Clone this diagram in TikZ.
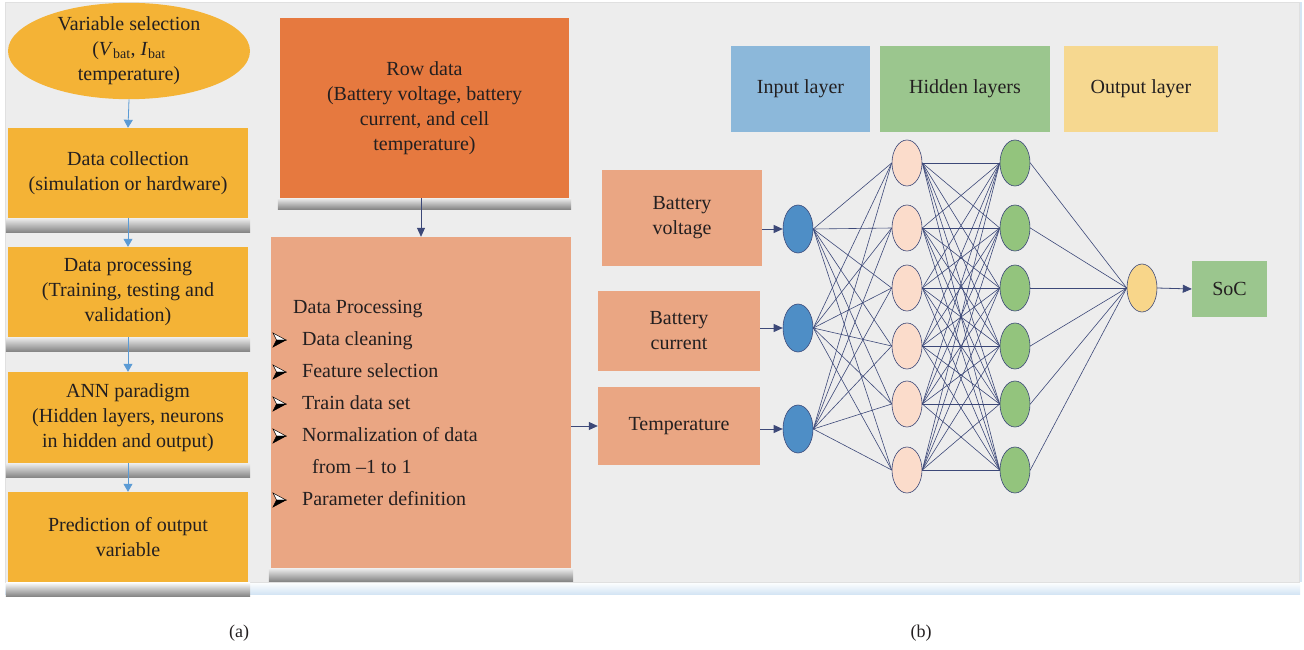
\documentclass[tikz,border=0pt]{standalone}
\usepackage{fontspec}
\setmainfont{Liberation Serif}
\usetikzlibrary{shapes.geometric,arrows.meta}

\definecolor{panelgray}{HTML}{EDEDED}
\definecolor{amber}{HTML}{F4B336}
\definecolor{rawor}{HTML}{E6793F}
\definecolor{salmon}{HTML}{EAA683}
\definecolor{legblue}{HTML}{8CB8DA}
\definecolor{leggreen}{HTML}{9BC68E}
\definecolor{legyellow}{HTML}{F6D890}
\definecolor{inneuron}{HTML}{4E8EC6}
\definecolor{hidpeach}{HTML}{FBDCCB}
\definecolor{hidgreen}{HTML}{93C47D}
\definecolor{outneuron}{HTML}{F8D68A}
\definecolor{wire}{HTML}{3C4878}
\definecolor{flowblue}{HTML}{5B9BD5}
\definecolor{ink}{HTML}{231F20}
\definecolor{glow}{HTML}{D4E5F4}
\definecolor{shadowgray}{HTML}{858585}

\tikzset{
  flowbox/.style={rectangle, fill=amber, align=center, inner sep=0pt,
      minimum width=240pt},
  flowell/.style={ellipse, fill=amber, align=center, inner sep=0pt,
      minimum width=242pt, minimum height=96pt},
  flowarrow/.style={draw=flowblue, line width=0.8pt,
      -{Triangle[length=8pt,width=9pt]}},
  databox/.style={rectangle, align=center, inner sep=0pt},
  featbox/.style={rectangle, fill=salmon, align=center, inner sep=0pt},
  legbox/.style={rectangle, align=center, inner sep=0pt, minimum height=86pt},
  neuron/.style={ellipse, draw=wire, line width=0.6pt, inner sep=0pt,
      minimum width=30pt, minimum height=46pt},
  wire/.style={draw=wire, line width=0.6pt},
  navyarrow/.style={draw=wire, line width=0.8pt,
      -{Triangle[length=9pt,width=8pt]}},
  listitem/.style={anchor=west, inner sep=0pt, text height=14pt, text depth=4pt},
  pics/tribullet/.style={code={
      \filldraw[fill=white, draw=black, line width=0.5pt]
        (13,0) -- (0,-7) -- (3.5,0) -- cycle;
      \filldraw[fill=black, draw=black, line width=0.5pt]
        (13,0) -- (0,7) -- (3.5,0) -- cycle;
  }},
}
% soft shadow strip under the bottom edge of a box: #2 = node, #3 = colour it fades to.
% The y axis points down here, so the shading's "bottom" colour lies at the box edge.
\newcommand\undershadow[3][14pt]{%
  \shade[top color=#3, bottom color=shadowgray]
    ([xshift=-2pt]#2.south west) rectangle ([xshift=2pt,yshift=-#1]#2.south east);}

\begin{document}
\begin{tikzpicture}[x=1pt, y=-1pt, text=ink,
    font=\fontsize{20}{25}\selectfont]
\useasboundingbox (0,0) rectangle (1304,650);
\fill[white] (0,0) rectangle (1304,650);

% grey panel with a soft blue edge
\shade[top color=white, bottom color=glow] (5,582) rectangle (1300,594);
\fill[glow] (1298,2) rectangle (1302,582);
\filldraw[fill=panelgray, draw=black!12, line width=0.4pt] (5,2) rectangle (1299,582);

% ---------- (a) workflow ----------
\node[flowell] (vsel) at (129,51)
  {Variable selection\\(\textit{V}\textsubscript{bat}, \textit{I}\textsubscript{bat}\\temperature)};
\node[flowbox, minimum height=90pt] (coll) at (128,173)
  {Data collection\\(simulation or hardware)};
\node[flowbox, minimum height=90pt] (proc) at (128,292)
  {Data processing\\(Training, testing and\\validation)};
\node[flowbox, minimum height=91pt] (ann) at (128,417.5)
  {ANN paradigm\\(Hidden layers, neurons\\in hidden and output)};
\node[flowbox, minimum height=90pt] (pred) at (128,537)
  {Prediction of output\\variable};

\undershadow{coll}{panelgray}
\undershadow{proc}{panelgray}
\undershadow{ann}{panelgray}
\undershadow{pred}{white}

\draw[flowarrow] (vsel.south) -- (coll.north);
\draw[flowarrow] (coll.south) -- (proc.north);
\draw[flowarrow] (proc.south) -- (ann.north);
\draw[flowarrow] (ann.south) -- (pred.north);

% ---------- data preparation ----------
\node[databox, fill=rawor, minimum width=289pt, minimum height=180pt] (raw) at (424.5,108)
  {Row data\\(Battery voltage, battery\\current, and cell\\temperature)};
\node[databox, fill=salmon, minimum width=300pt, minimum height=331pt] (dproc) at (421,402.5) {};
\undershadow[11pt]{raw}{panelgray}
\undershadow[13pt]{dproc}{panelgray}
\draw[navyarrow] (dproc.north |- raw.south) -- (dproc.north);

\node[listitem] (dphead) at (293,308) {Data Processing};
\pic at (273,340) {tribullet};
\node[listitem] (it1) at (302,340) {Data cleaning};
\pic at (273,372) {tribullet};
\node[listitem] (it2) at (302,372) {Feature selection};
\pic at (273,404) {tribullet};
\node[listitem] (it3) at (302,404) {Train data set};
\pic at (273,436) {tribullet};
\node[listitem] (it4) at (302,436) {Normalization of data};
\node[listitem] (it4b) at (312,468) {from –1 to 1};
\pic at (273,500) {tribullet};
\node[listitem] (it5) at (302,500) {Parameter definition};

% ---------- (b) network ----------
\node[featbox, minimum width=160pt, minimum height=96pt] (volt) at (682,218) {Battery\\voltage};
\node[featbox, minimum width=162pt, minimum height=80pt] (curr) at (679,331) {Battery\\current};
\node[featbox, minimum width=162pt, minimum height=78pt] (temp) at (679,426) {Temperature};

\draw[navyarrow] (dproc.east |- temp.west) -- (temp.west);

\node[legbox, fill=legblue, minimum width=139pt] (leginp) at (800.5,89) {Input layer};
\node[legbox, fill=leggreen, minimum width=170pt] (leghid) at (965,89) {Hidden layers};
\node[legbox, fill=legyellow, minimum width=154pt] (legout) at (1141,89) {Output layer};

% neurons
\node[neuron, fill=inneuron, minimum height=48pt] (i1) at (798,229) {};
\node[neuron, fill=inneuron, minimum height=48pt] (i2) at (798,328) {};
\node[neuron, fill=inneuron, minimum height=48pt] (i3) at (798,429) {};
\foreach \k/\yy in {1/163, 2/228, 3/288, 4/346, 5/404, 6/470} {
  \node[neuron, fill=hidpeach] (p\k) at (907,\yy) {};
  \node[neuron, fill=hidgreen] (g\k) at (1015,\yy) {};
}
\node[neuron, fill=outneuron, minimum height=48pt] (o1) at (1142,288) {};
\node[rectangle, fill=leggreen, minimum width=75pt, minimum height=56pt, inner sep=0pt]
  (soc) at (1229.5,289) {SoC};

% weights
\foreach \i in {1,2,3} \foreach \j in {1,...,6} \draw[wire] (i\i.east) -- (p\j.west);
\foreach \i in {1,...,6} \foreach \j in {1,...,6} \draw[wire] (p\i.east) -- (g\j.west);
\foreach \i in {1,...,6} \draw[wire] (g\i.east) -- (o1.west);

% inputs and output
\draw[navyarrow] (volt.east |- i1.west) -- (i1.west);
\draw[navyarrow] (curr.east |- i2.west) -- (i2.west);
\draw[navyarrow] (temp.east |- i3.west) -- (i3.west);
\draw[navyarrow] (o1.east) -- (soc.west);

% captions
\node[font=\fontsize{18}{20}\selectfont] (capa) at (239,633) {(a)};
\node[font=\fontsize{18}{20}\selectfont] (capb) at (921,633) {(b)};
\end{tikzpicture}
\end{document}
